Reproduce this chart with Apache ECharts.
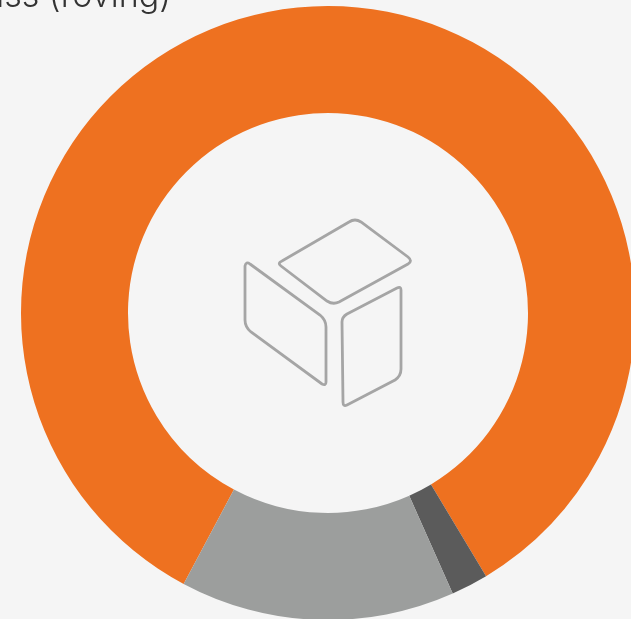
<!DOCTYPE html>
<html>
<head>
<meta charset="utf-8">
<style>
  html, body { margin: 0; padding: 0; background: #f5f5f5; }
  #chart { width: 631px; height: 619px; }
</style>
</head>
<body>
<div id="chart"></div>
<script src="https://cdn.jsdelivr.net/npm/echarts@6/dist/echarts.min.js"></script>
<script>
const categories = ['Glass (roving)', 'Other', 'Resin']
const shares = [83.6, 1.95, 14.45]
const colors = ['#ee7120', '#5b5b5b', '#9c9e9d']
const headingText = 'Glass (roving)'

// box icon in the middle of the ring
const iconFaces = [
  'M349 222 Q355 218 361 222 L408 257 Q413 261 408 264 L339 302 Q333 305 327 301 L281 266 Q277 263 282 261 Z',
  'M250 264 L320 315 Q326 320 326 327 L326 382 Q326 386 322 384 L251 332 Q245 327 245 320 L245 266 Q246 261 250 264 Z',
  'M347 314 L397 288 Q401 286 401 290 L401 369 Q401 376 395 380 L347 405 Q343 407 343 402 L342 322 Q342 317 347 314 Z'
]
iconFaces.forEach((d, i) => {
  echarts.graphic.registerShape('boxFace' + i, echarts.graphic.extendPath(d, {}))
})

const chart = echarts.init(document.getElementById('chart'))
const option = {
  backgroundColor: '#f5f5f5',
  animation: false,
  tooltip: { show: false },
  legend: { show: false },
  series: [
    {
      type: 'pie',
      center: [328, 313],
      radius: [200, 307],
      startAngle: 241.95,
      silent: true,
      label: { show: false },
      labelLine: { show: false },
      data: categories.map((name, i) => ({
        name: name,
        value: shares[i],
        itemStyle: { color: colors[i] }
      }))
    }
  ],
  graphic: [
    {
      type: 'text',
      x: 171,
      y: 14,
      style: {
        text: headingText,
        fill: '#333333',
        font: '300 34px Inter, "Noto Sans", sans-serif',
        textAlign: 'right',
        textVerticalAlign: 'bottom'
      }
    },
    ...iconFaces.map((d, i) => ({
      type: 'boxFace' + i,
      style: { fill: 'none', stroke: '#a5a5a5', lineWidth: 2.8 }
    }))
  ]
}
chart.setOption(option)
</script>
</body>
</html>
